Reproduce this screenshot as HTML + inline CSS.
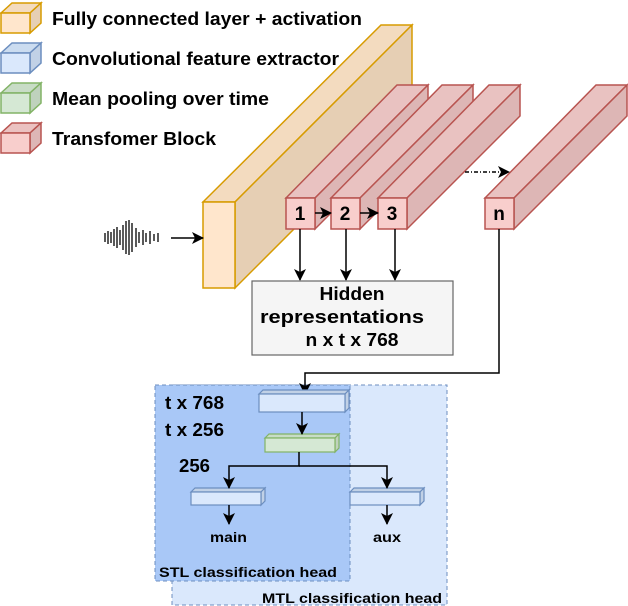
<!DOCTYPE html>
<html><head><meta charset="utf-8"><style>
html,body{margin:0;padding:0;background:#fff;}
svg{display:block;font-family:"Liberation Sans",Arial,sans-serif;font-weight:bold;}
</style></head><body>
<svg width="628" height="606" viewBox="0 0 628 606" xmlns="http://www.w3.org/2000/svg">
<defs>
<marker id="a" markerWidth="14" markerHeight="14" refX="11" refY="6" orient="auto" markerUnits="userSpaceOnUse">
<path d="M0,0 L12,6 L0,12 L3,6 Z" fill="#000"/></marker>
</defs>
<!-- legend -->
<g stroke-width="1.5">
<g stroke="#d79b00"><polygon points="1,13 12,3 41,3 30,13" fill="#f3dbbf"/><polygon points="30,13 41,3 41,23 30,33" fill="#e6cfb4"/><rect x="1" y="13" width="29" height="20" fill="#ffe6cc"/></g>
<g stroke="#6c8ebf"><polygon points="1,53 12,43 41,43 30,53" fill="#cbdcf0"/><polygon points="30,53 41,43 41,63 30,73" fill="#c1d1e6"/><rect x="1" y="53" width="29" height="20" fill="#dae8fc"/></g>
<g stroke="#82b366"><polygon points="1,93 12,83 41,83 30,93" fill="#c8dcc6"/><polygon points="30,93 41,83 41,103 30,113" fill="#bfd2bd"/><rect x="1" y="93" width="29" height="20" fill="#d5e8d4"/></g>
<g stroke="#b85450"><polygon points="1,133 12,123 41,123 30,133" fill="#ebc2c1"/><polygon points="30,133 41,123 41,143 30,153" fill="#ddb6b5"/><rect x="1" y="133" width="29" height="20" fill="#f8cecc"/></g>
</g>
<g font-size="18" fill="#000">
<text x="52" y="25" textLength="310" lengthAdjust="spacingAndGlyphs">Fully connected layer + activation</text>
<text x="52" y="65" textLength="287" lengthAdjust="spacingAndGlyphs">Convolutional feature extractor</text>
<text x="52" y="105" textLength="217" lengthAdjust="spacingAndGlyphs">Mean pooling over time</text>
<text x="52" y="145" textLength="164" lengthAdjust="spacingAndGlyphs">Transfomer Block</text>
</g>
<!-- orange slab -->
<g stroke="#d79b00" stroke-width="1.5">
<polygon points="203,202 381,25 412,25 235,202" fill="#f3dbbf"/>
<polygon points="235,202 412,25 412,111 235,288" fill="#e6cfb4"/>
<rect x="203" y="202" width="32" height="86" fill="#ffe6cc"/>
</g>
<!-- transformer blocks -->
<g stroke="#b85450" stroke-width="1.5">
<g><polygon points="286,198 397,85 428,85 315,198" fill="#e9c2c1"/><polygon points="315,198 428,85 428,116 315,229" fill="#ddb6b5"/><rect x="286" y="198" width="29" height="31" fill="#f8cecc"/></g>
<g><polygon points="331,198 442,85 473,85 360,198" fill="#e9c2c1"/><polygon points="360,198 473,85 473,116 360,229" fill="#ddb6b5"/><rect x="331" y="198" width="29" height="31" fill="#f8cecc"/></g>
<g><polygon points="378,198 489,85 520,85 407,198" fill="#e9c2c1"/><polygon points="407,198 520,85 520,116 407,229" fill="#ddb6b5"/><rect x="378" y="198" width="29" height="31" fill="#f8cecc"/></g>
<g><polygon points="485,198 596,85 627,85 514,198" fill="#e9c2c1"/><polygon points="514,198 627,85 627,116 514,229" fill="#ddb6b5"/><rect x="485" y="198" width="29" height="31" fill="#f8cecc"/></g>
</g>
<g font-size="19" text-anchor="middle">
<text x="300" y="220">1</text><text x="345" y="220">2</text><text x="392" y="220">3</text><text x="499" y="220">n</text>
</g>
<g stroke="#000" stroke-width="1.5" fill="none">
<line x1="315" y1="213" x2="331" y2="213" marker-end="url(#a)"/>
<line x1="360" y1="213" x2="378" y2="213" marker-end="url(#a)"/>
<line x1="465" y1="172" x2="509" y2="172" stroke-dasharray="4,2,1,2" marker-end="url(#a)"/>
<line x1="171" y1="238" x2="203" y2="238" marker-end="url(#a)"/>
<line x1="300" y1="229" x2="300" y2="280" marker-end="url(#a)"/>
<line x1="346" y1="229" x2="346" y2="280" marker-end="url(#a)"/>
<line x1="395" y1="229" x2="395" y2="280" marker-end="url(#a)"/>
</g>
<!-- waveform -->
<g stroke="#000" stroke-width="1.3">
<line x1="105" y1="233" x2="105" y2="242"/><line x1="108" y1="231" x2="108" y2="244"/><line x1="111" y1="232" x2="111" y2="243"/>
<line x1="114" y1="229" x2="114" y2="246"/><line x1="117" y1="227" x2="117" y2="248"/><line x1="120" y1="230" x2="120" y2="245"/>
<line x1="123" y1="225" x2="123" y2="250"/><line x1="126" y1="221" x2="126" y2="254"/><line x1="129" y1="220" x2="129" y2="255"/>
<line x1="132" y1="223" x2="132" y2="252"/><line x1="136" y1="228" x2="136" y2="247"/><line x1="139" y1="232" x2="139" y2="243"/>
<line x1="143" y1="230" x2="143" y2="245"/><line x1="146" y1="233" x2="146" y2="242"/><line x1="150" y1="231" x2="150" y2="244"/>
<line x1="154" y1="234" x2="154" y2="241"/><line x1="158" y1="233" x2="158" y2="242"/>
</g>
<!-- hidden box -->
<rect x="252" y="281" width="201" height="74" fill="#f5f5f5" stroke="#666" stroke-width="1.2"/>
<g font-size="18" text-anchor="middle">
<text x="352" y="300" textLength="65" lengthAdjust="spacingAndGlyphs">Hidden</text>
<text x="342" y="323" textLength="164" lengthAdjust="spacingAndGlyphs">representations</text>
<text x="352" y="346" textLength="93" lengthAdjust="spacingAndGlyphs">n x t x 768</text>
</g>
<!-- heads -->
<rect x="172" y="385" width="275" height="220" fill="#dae8fc" stroke="#6c8ebf" stroke-dasharray="4,3"/>
<rect x="155" y="385" width="195" height="196" fill="#a9c8f7" stroke="#6c8ebf" stroke-dasharray="4,3"/>
<polyline points="499,229 499,373 305,373 305,394" fill="none" stroke="#000" stroke-width="1.5" marker-end="url(#a)"/>
<g stroke="#6c8ebf" stroke-width="1.2">
<polygon points="259,394 263,390 349,390 345,394" fill="#c1d1e6"/><polygon points="345,394 349,390 349,408 345,412" fill="#c1d1e6"/><rect x="259" y="394" width="86" height="18" fill="#dae8fc"/>
<polygon points="191,492 195,488 265,488 261,492" fill="#c1d1e6"/><polygon points="261,492 265,488 265,501 261,505" fill="#c1d1e6"/><rect x="191" y="492" width="70" height="13" fill="#dae8fc"/>
<polygon points="350,492 354,488 424,488 420,492" fill="#c1d1e6"/><polygon points="420,492 424,488 424,501 420,505" fill="#c1d1e6"/><rect x="350" y="492" width="70" height="13" fill="#dae8fc"/>
</g>
<g stroke="#82b366" stroke-width="1.2">
<polygon points="265,438 269,434 339,434 335,438" fill="#c8dcc6"/><polygon points="335,438 339,434 339,448 335,452" fill="#bfd2bd"/><rect x="265" y="438" width="70" height="14" fill="#d5e8d4"/>
</g>
<g stroke="#000" stroke-width="1.5" fill="none">
<line x1="302" y1="412" x2="302" y2="434" marker-end="url(#a)"/>
<polyline points="299,452 299,466 229,466 229,488" marker-end="url(#a)"/>
<polyline points="299,466 387,466 387,488" marker-end="url(#a)"/>
<line x1="229" y1="505" x2="229" y2="524" marker-end="url(#a)"/>
<line x1="387" y1="505" x2="387" y2="524" marker-end="url(#a)"/>
</g>
<g font-size="18">
<text x="165" y="409" textLength="59" lengthAdjust="spacingAndGlyphs">t x 768</text>
<text x="165" y="436" textLength="59" lengthAdjust="spacingAndGlyphs">t x 256</text>
<text x="179" y="472" textLength="31" lengthAdjust="spacingAndGlyphs">256</text>
</g>
<g font-size="14">
<text x="210" y="542" textLength="37" lengthAdjust="spacingAndGlyphs">main</text>
<text x="373" y="542" textLength="28" lengthAdjust="spacingAndGlyphs">aux</text>
<text x="159" y="577" textLength="178" lengthAdjust="spacingAndGlyphs">STL classification head</text>
<text x="262" y="603" textLength="180" lengthAdjust="spacingAndGlyphs">MTL classification head</text>
</g>
</svg>
</body></html>
